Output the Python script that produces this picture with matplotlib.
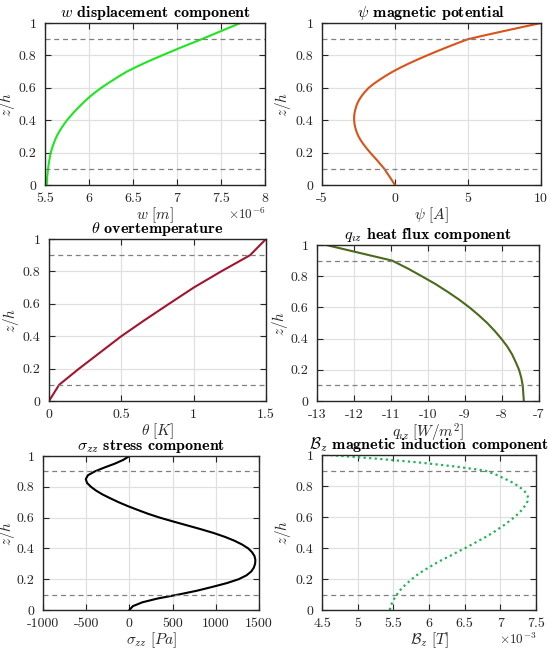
import matplotlib
matplotlib.use('Agg')
import matplotlib.pyplot as plt

#-------------    Dados   ------------------------------------
z = [0.0, 0.025, 0.05, 0.075, 0.1, 0.125, 0.15, 0.175, 0.2, 0.225, 0.25,
     0.275, 0.3, 0.325, 0.35, 0.375, 0.4, 0.425, 0.45, 0.475, 0.5,
     0.525, 0.55, 0.575, 0.6, 0.625, 0.65, 0.675, 0.7, 0.725, 0.75,
     0.775, 0.8, 0.825, 0.85, 0.875, 0.9, 0.925, 0.95, 0.975, 1.0]

# w (x 1e-6 m)
w_vals = [5.520, 5.522, 5.525, 5.530, 5.535, 5.541, 5.548, 5.556, 5.565, 5.579, 5.595,
          5.612, 5.632, 5.657, 5.685, 5.716, 5.750, 5.789, 5.830, 5.874, 5.920,
          5.969, 6.020, 6.078, 6.140, 6.208, 6.280, 6.353, 6.430, 6.523, 6.620,
          6.723, 6.830, 6.940, 7.050, 7.165, 7.280, 7.390, 7.500, 7.610, 7.720]

# psi (A)
psi_vals = [0.0, -0.18, -0.36, -0.55, -0.73, -0.97, -1.2, -1.45, -1.7, -1.93, -2.15,
            -2.34, -2.5, -2.62, -2.71, -2.77, -2.8, -2.8, -2.76, -2.69, -2.6,
            -2.46, -2.28, -2.06, -1.8, -1.45, -1.05, -0.62, -0.15, 0.38, 0.95,
            1.56, 2.2, 2.86, 3.55, 4.26, 5.0, 6.2, 7.45, 8.72, 10.0]

# theta (K)
z_theta = [0.0, 0.1, 0.2, 0.3, 0.4, 0.5, 0.6, 0.7, 0.8, 0.9, 1.0]
theta_vals = [0.0, 0.07, 0.208, 0.354, 0.5, 0.662, 0.83, 1.0, 1.19, 1.39, 1.5]

# q_z (W/m^2)
z_q = [0.0, 0.1, 0.15, 0.2, 0.25, 0.3, 0.35, 0.4, 0.45, 0.5, 0.55,
       0.6, 0.65, 0.7, 0.75, 0.8, 0.85, 0.9, 1.0]
q_vals = [-7.41, -7.44, -7.48, -7.54, -7.63, -7.73, -7.86, -8.02, -8.2, -8.4, -8.63,
          -8.88, -9.16, -9.47, -9.8, -10.17, -10.55, -10.97, -12.75]

# sigma_zz (Pa)
sig_vals = [0.0, 40, 150, 330, 565, 780, 960, 1130, 1265, 1355, 1410,
            1440, 1455, 1458, 1448, 1420, 1375, 1305, 1215, 1105, 975,
            825, 665, 505, 350, 215, 95, -20, -125, -220, -310,
            -385, -445, -490, -505, -480, -400, -290, -170, -70, 0.0]

# B_z (x 1e-3 T)
b_vals = [5.45, 5.465, 5.485, 5.515, 5.55, 5.59, 5.64, 5.7, 5.76, 5.83, 5.91,
          6.0, 6.09, 6.19, 6.3, 6.4, 6.51, 6.61, 6.71, 6.81, 6.9,
          6.98, 7.06, 7.13, 7.2, 7.26, 7.31, 7.35, 7.38, 7.39, 7.37,
          7.32, 7.25, 7.16, 7.05, 6.93, 6.78, 6.38, 5.9, 5.3, 4.6]

interfaces = [0.1, 0.9]

y_ticks = [0, 0.2, 0.4, 0.6, 0.8, 1]
y_labels = ['0', '0.2', '0.4', '0.6', '0.8', '1']

w_ticks = [5.5, 6, 6.5, 7, 7.5, 8]
w_labels = ['5.5', '6', '6.5', '7', '7.5', '8']
psi_ticks = [-5, 0, 5, 10]
psi_labels = ['-5', '0', '5', '10']
theta_ticks = [0, 0.5, 1, 1.5]
theta_labels = ['0', '0.5', '1', '1.5']
q_ticks = [-13, -12, -11, -10, -9, -8, -7]
q_labels = ['-13', '-12', '-11', '-10', '-9', '-8', '-7']
sig_ticks = [-1000, -500, 0, 500, 1000, 1500]
sig_labels = ['-1000', '-500', '0', '500', '1000', '1500']
b_ticks = [4.5, 5, 5.5, 6, 6.5, 7, 7.5]
b_labels = ['4.5', '5', '5.5', '6', '6.5', '7', '7.5']

#-------------    Configuracoes   --------------------
plt.rcParams['mathtext.fontset'] = 'cm'
plt.rcParams['font.family'] = 'cmr10'
plt.rcParams['axes.unicode_minus'] = False

TXT = '#262626'
W, H = 550.0, 650.0


def configAxes(ax, box, xticks, xlabels, xlim, titulo, xlabel, ylab_x):
    ax.set_xlim(xlim)
    ax.set_ylim(0, 1)
    ax.set_xticks(xticks)
    ax.set_xticklabels(xlabels)
    ax.set_yticks(y_ticks)
    ax.set_yticklabels(y_labels)
    ax.grid(True, color='#e0e0e0', linewidth=0.9)
    ax.set_axisbelow(True)
    ax.tick_params(direction='in', top=True, right=True, length=4,
                   labelsize=10, colors=TXT, width=0.8, pad=6)
    for s in ax.spines.values():
        s.set_color('#262626')
        s.set_linewidth(1.0)
    for zi in interfaces:
        ax.axhline(zi, color='#808080', linestyle='--', linewidth=0.9, dashes=(4, 3))
    ax.set_title(titulo, fontsize=11.5, family='cmb10', color='black', pad=4)
    ax.set_xlabel(xlabel, fontsize=11, color=TXT, labelpad=0)
    ax.set_ylabel(r'$z/h$', fontsize=11, color=TXT)
    # borda direita do rotulo y, em pixels
    ax.yaxis.set_label_coords((ylab_x - box[0]) / (box[2] - box[0]), 0.5)


def addAxes(fig, box):
    x0, y0, x1, y1 = box
    return fig.add_axes([x0 / W, 1 - y1 / H, (x1 - x0) / W, (y1 - y0) / H])


fig = plt.figure(figsize=(5.5, 6.5), dpi=100)

# w
box = (45, 23, 265, 185)
ax = addAxes(fig, box)
ax.plot(w_vals, z, color='#1ee61e', linewidth=1.5)
configAxes(ax, box, w_ticks, w_labels, (5.5, 8), r'$w$ displacement component', r'$w\ [m]$', 17)
ax.text(1.0, -0.135, r'$\times10^{-6}$', transform=ax.transAxes, ha='right', va='top',
        fontsize=9.5, color=TXT)

# psi
box = (322, 23, 541, 185)
ax = addAxes(fig, box)
ax.plot(psi_vals, z, color='#d95319', linewidth=1.5)
configAxes(ax, box, psi_ticks, psi_labels, (-5, 10), r'$\psi$ magnetic potential',
           r'$\psi\ [A]$', 293)

# theta
box = (49, 239, 266, 401)
ax = addAxes(fig, box)
ax.plot(theta_vals, z_theta, color='#a2142f', linewidth=1.5)
configAxes(ax, box, theta_ticks, theta_labels, (0, 1.5), r'$\theta$ overtemperature',
           r'$\theta\ [K]$', 21)

# q_z
box = (317, 245, 539, 401)
ax = addAxes(fig, box)
ax.plot(q_vals, z_q, color='#4b6a1c', linewidth=1.5)
configAxes(ax, box, q_ticks, q_labels, (-13, -7), r'$q_{\imath z}$ heat flux component',
           r'$q_{\imath z}\ [W/m^2]$', 290)

# sigma_zz
box = (43, 456, 259, 610)
ax = addAxes(fig, box)
ax.plot(sig_vals, z, color='black', linewidth=1.5)
configAxes(ax, box, sig_ticks, sig_labels, (-1000, 1500), r'$\sigma_{zz}$ stress component',
           r'$\sigma_{zz}\ [Pa]$', 17)

# B_z
box = (322, 455, 536, 610)
ax = addAxes(fig, box)
ax.plot(b_vals, z, color='#22b455', linewidth=1.6, linestyle=':', dashes=(1, 1.5))
configAxes(ax, box, b_ticks, b_labels, (4.5, 7.5), r'$\mathcal{B}_z$ magnetic induction component',
           r'$\mathcal{B}_z\ [T]$', 293)
ax.text(1.0, -0.14, r'$\times10^{-3}$', transform=ax.transAxes, ha='right', va='top',
        fontsize=9.5, color=TXT)

fig.savefig('out.png', dpi=100)
